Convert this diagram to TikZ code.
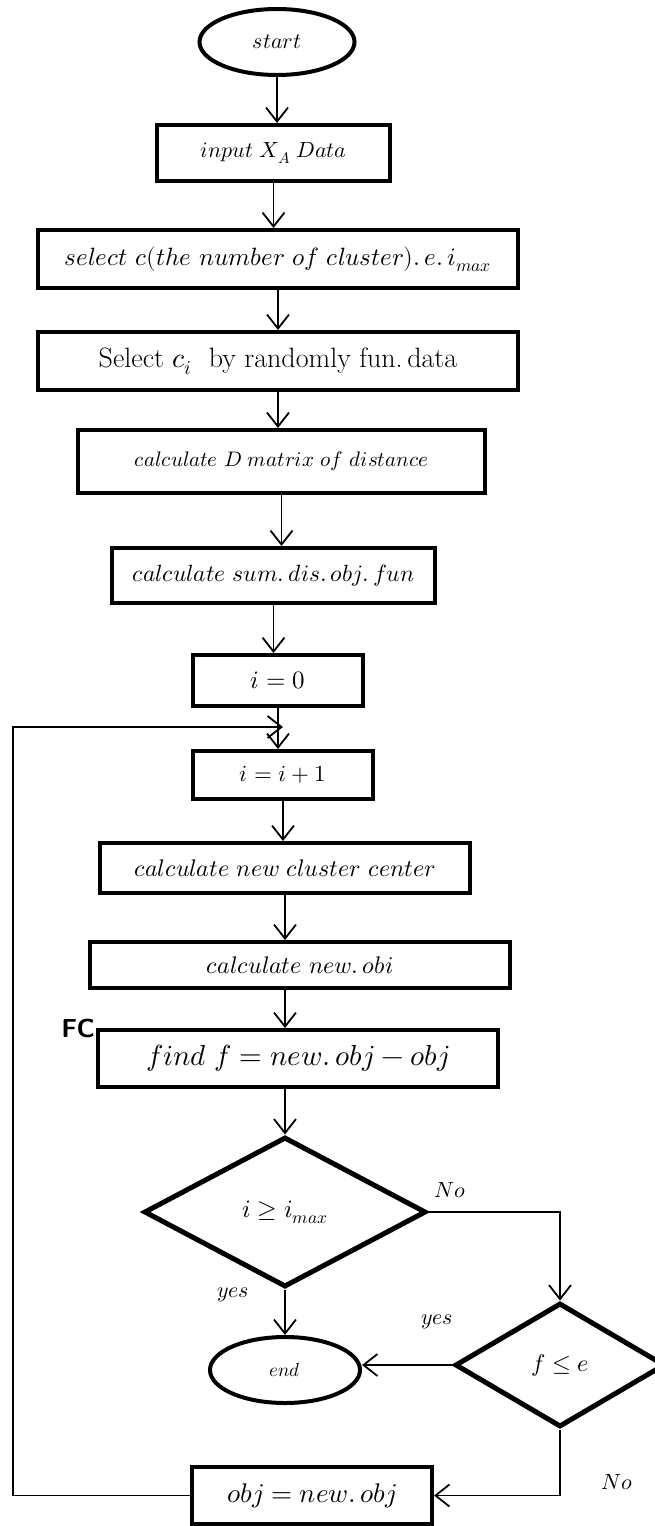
\documentclass[tikz,border=0pt]{standalone}
\usepackage{fontspec}
\usepackage{unicode-math}
\setmathfont{Latin Modern Math}
\usetikzlibrary{shapes.geometric,arrows.meta,calc}
\newcommand{\fs}[1]{\fontsize{#1}{#1}\selectfont}
\begin{document}
\begin{tikzpicture}[x=1pt,y=-1pt,
  box/.style={draw, line width=4pt, rectangle, inner sep=0pt, fill=white},
  term/.style={draw, line width=4pt, ellipse, inner sep=0pt, fill=white},
  dec/.style={draw, line width=5pt, diamond, inner sep=0pt, fill=white},
  conn/.style={line width=1.8pt, -{Straight Barb[length=14pt,width=22pt,line width=1.8pt]}},
  lbl/.style={font=\fs{22}}]
\useasboundingbox (0,0) rectangle (655,1526);
\fill[white] (0,0) rectangle (655,1526);
\node[term, minimum width=155pt, minimum height=66pt, font=\fs{22}] (start) at (277,42) {$start$};
\node[box, minimum width=233pt, minimum height=56pt, font=\fs{22}] (input) at (273.5,153) {$input\ X_A\ Data$};
\node[box, minimum width=480pt, minimum height=58pt, font=\fs{25}] (sel) at (278,259) {$select\ c(the\ number\ of\ cluster).\,e.\,i_{max}$};
\node[box, minimum width=480pt, minimum height=58pt, font=\fs{28}] (selci) at (278,361) {Select $c_i$\ \ by randomly fun.\,data};
\node[box, minimum width=407pt, minimum height=63pt, font=\fs{21}] (calcD) at (281.5,461.5) {$calculate\ D\ matrix\ of\ distance$};
\node[box, minimum width=323pt, minimum height=55pt, font=\fs{23.5}] (calcsum) at (273.5,575.5) {$calculate\ sum.\,dis.\,obj.\,fun$};
\node[box, minimum width=170pt, minimum height=51pt, font=\fs{25}] (i0) at (278,680.5) {$i=0$};
\node[box, minimum width=180pt, minimum height=48pt, font=\fs{23}] (ii) at (283,775) {$i=i+1$};
\node[box, minimum width=370pt, minimum height=50pt, font=\fs{24}] (newc) at (285,868) {$calculate\ new\ cluster\ center$};
\node[box, minimum width=420pt, minimum height=46pt, font=\fs{24}] (newobj) at (300,965) {$calculate\ new.\,obi$};
\node[box, minimum width=400pt, minimum height=57pt, font=\fs{29}] (find) at (298,1058.5) {$find\ f=new.\,obj-obj$};
\node[font=\sffamily\bfseries\fs{26}, anchor=east, inner sep=1pt] (fc) at (find.north west) {FC};
\node[dec, minimum width=282pt, minimum height=150pt, font=\fs{25}] (d1) at (285,1212) {$i\geq i_{max}$};
\node[dec, minimum width=210pt, minimum height=124pt, font=\fs{24}] (d2) at (560,1365) {$f\leq e$};
\node[term, minimum width=150pt, minimum height=66pt, font=\fs{19}] (end) at (285,1370) {$end$};
\node[box, minimum width=240pt, minimum height=57pt, font=\fs{27}] (obj) at (312,1495.5) {$obj=new.\,obj$};
\coordinate (lc) at (13,727);
\draw[conn] (start.south) -- (start.south |- input.north);
\draw[conn] (input.south) -- (input.south |- sel.north);
\draw[conn] (sel.south) -- (sel.south |- selci.north);
\draw[conn] (selci.south) -- (selci.south |- calcD.north);
\draw[conn] (calcD.south) -- (calcD.south |- calcsum.north);
\draw[conn] (calcsum.south) -- (calcsum.south |- i0.north);
\draw[conn] (i0.south) -- (i0.south |- ii.north);
\draw[conn] (ii.south) -- (ii.south |- newc.north);
\draw[conn] (newc.south) -- (newc.south |- newobj.north);
\draw[conn] (newobj.south -| newc.south) -- (newc.south |- find.north);
\draw[conn] (find.south -| newc.south) -- (d1.north);
\draw[conn] (d1.south) -- (end.north);
\draw[conn] (d1.east) -| (d2.north);
\draw[conn] (d2.west) -- (d2.west -| end.east);
\draw[conn] (d2.south) |- (obj.east);
\draw[conn] (obj.west) -| (lc) -- (lc -| ii.north);
\node[lbl] (no1) at (450,1190) {$No$};
\node[lbl] (yes1) at (233,1295) {$yes$};
\node[lbl] (yes2) at (437,1322) {$yes$};
\node[lbl] (no2) at (617,1482) {$No$};
\end{tikzpicture}
\end{document}
